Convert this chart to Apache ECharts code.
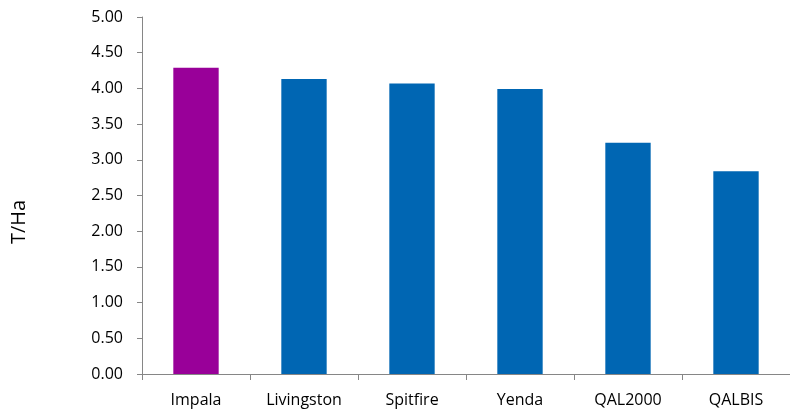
<!DOCTYPE html>
<html><head><meta charset="utf-8">
<script src="https://cdn.jsdelivr.net/npm/echarts@6/dist/echarts.min.js"></script>
<style>html,body{margin:0;padding:0;background:#fff}#c{width:790px;height:410px}</style>
</head><body><div id="c"></div>
<script>
var categories = ["Impala", "Livingston", "Spitfire", "Yenda", "QAL2000", "QALBIS"];
var values = [4.29, 4.13, 4.07, 3.99, 3.24, 2.84];
var barColors = ["#990099", "#0066B3", "#0066B3", "#0066B3", "#0066B3", "#0066B3"];
var yTicks = { min: 0, max: 5, interval: 0.5 };
var yTitle = "T/Ha";

var FONT = '"Open Sans", Lato, sans-serif';
var chart = echarts.init(document.getElementById('c'));
chart.setOption({
  animation: false,
  grid: { left: 142, right: -9, top: 17, bottom: 36 },
  graphic: [{
    type: 'text',
    x: 19, y: 222,
    rotation: Math.PI / 2,
    style: { text: yTitle, fill: '#000', fontSize: 20, fontFamily: FONT, align: 'center', verticalAlign: 'middle' }
  }],
  xAxis: {
    type: 'category',
    data: categories,
    axisLine: { lineStyle: { color: '#868686', width: 1 } },
    axisTick: { show: true, alignWithLabel: false, length: 6, lineStyle: { color: '#868686' } },
    axisLabel: { color: '#000', fontSize: 16, fontFamily: FONT, margin: 18 }
  },
  yAxis: {
    type: 'value',
    min: yTicks.min, max: yTicks.max, interval: yTicks.interval,
    axisLine: { show: true, lineStyle: { color: '#868686', width: 1 } },
    axisTick: { show: true, length: 5, lineStyle: { color: '#868686' } },
    splitLine: { show: false },
    axisLabel: { color: '#000', fontSize: 16, fontFamily: FONT, margin: 19,
      formatter: function (v) { return v.toFixed(2); } }
  },
  series: [{
    type: 'bar',
    barWidth: '42%',
    data: values.map(function (v, i) {
      return { value: v, itemStyle: { color: barColors[i] } };
    })
  }]
});
</script></body></html>
